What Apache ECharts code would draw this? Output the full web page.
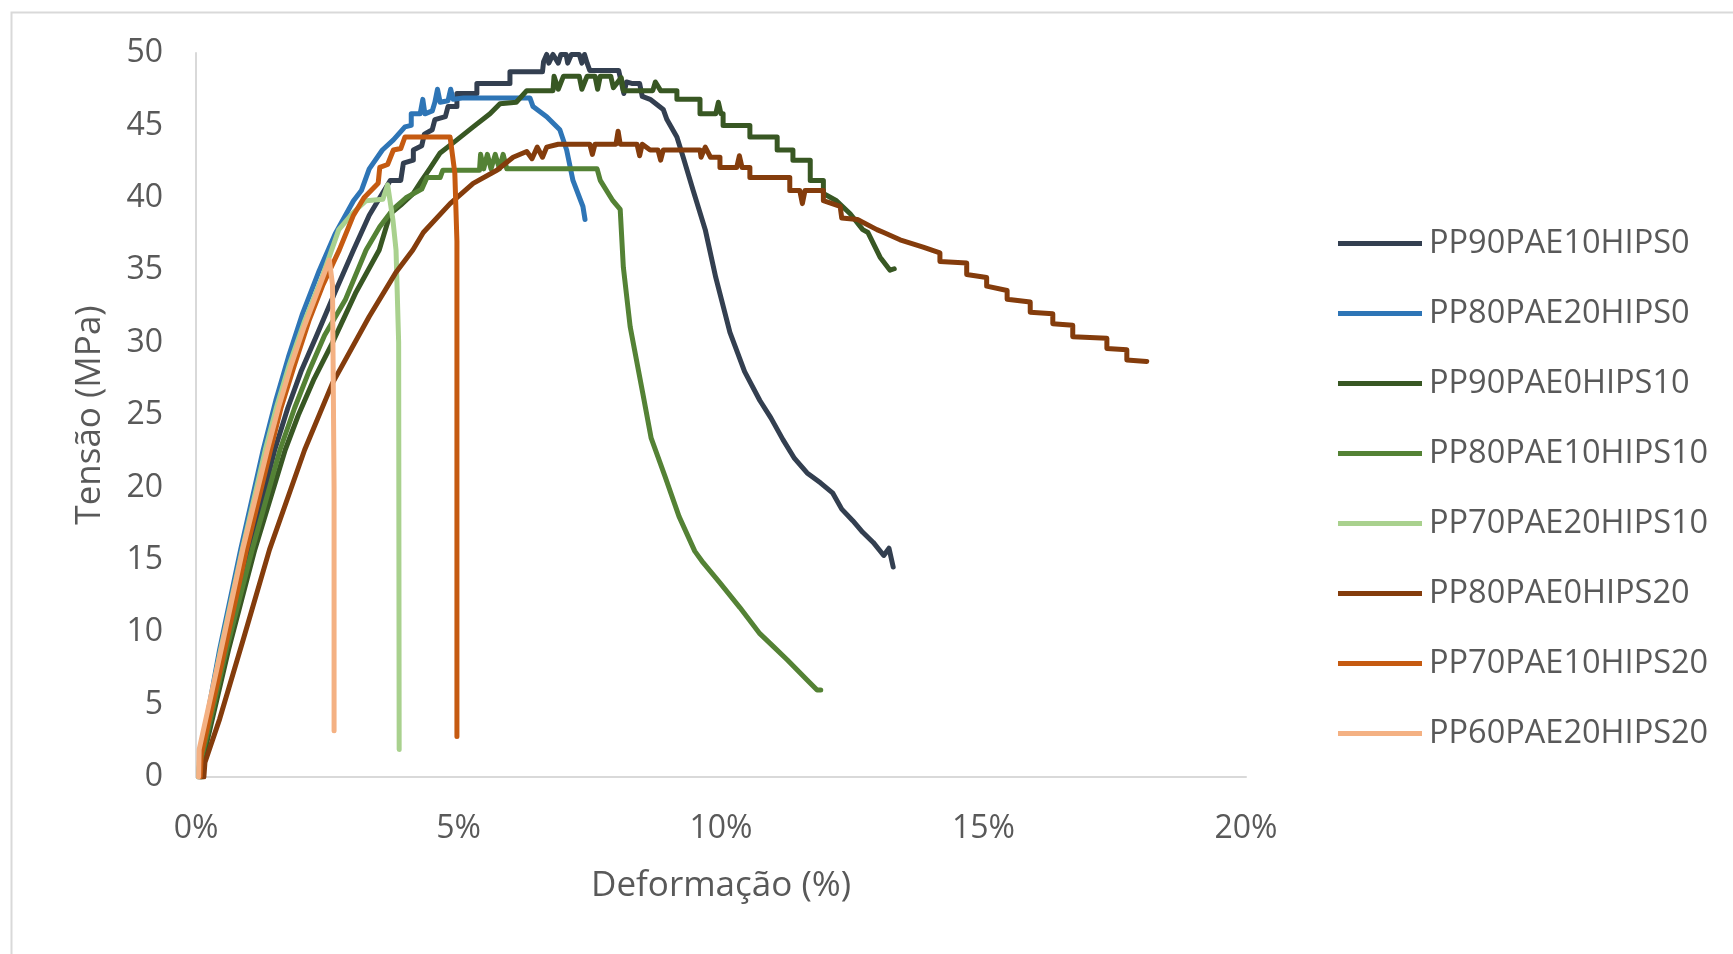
<!DOCTYPE html>
<html>
<head>
<meta charset="utf-8">
<script src="https://cdn.jsdelivr.net/npm/echarts@6/dist/echarts.min.js"></script>
<style>
html,body{margin:0;padding:0;background:#fff;}
#chart{width:1733px;height:954px;}
</style>
</head>
<body>
<div id="chart"></div>
<script>
// ---- Data (x = deformação in %, y = tensão in MPa) ----
const seriesNames = ['PP90PAE10HIPS0','PP80PAE20HIPS0','PP90PAE0HIPS10','PP80PAE10HIPS10','PP70PAE20HIPS10','PP80PAE0HIPS20','PP70PAE10HIPS20','PP60PAE20HIPS20'];
const xTicks = [0, 5, 10, 15, 20];
const yTicks = [0, 5, 10, 15, 20, 25, 30, 35, 40, 45, 50];

const pp90pae10hips0 = [[0.10,0],[0.13,1.5],[0.55,8.8],[1.03,15.7],[1.50,22.6],[1.75,25.5],[2.00,28.0],[2.30,30.5],[2.65,33.5],[3.00,36.4],[3.30,38.8],[3.50,40.0],[3.70,41.2],[3.90,41.2],[3.95,42.4],[4.14,42.6],[4.14,43.3],[4.30,43.6],[4.35,44.4],[4.50,44.7],[4.55,45.4],[4.75,45.6],[4.80,46.3],[4.97,46.3],[4.97,47.2],[5.35,47.2],[5.35,47.9],[5.98,47.9],[5.98,48.7],[6.60,48.7],[6.62,49.4],[6.68,49.9],[6.72,49.3],[6.80,49.9],[6.90,49.3],[6.95,49.9],[7.05,49.9],[7.08,49.3],[7.15,49.9],[7.30,49.9],[7.35,49.3],[7.40,49.9],[7.45,49.3],[7.50,48.8],[8.05,48.8],[8.10,48.0],[8.15,47.2],[8.20,48.0],[8.30,47.9],[8.45,47.9],[8.50,47.0],[8.65,46.8],[8.90,46.1],[8.97,45.4],[9.16,44.2],[9.28,42.8],[9.47,40.5],[9.70,37.8],[9.90,34.5],[10.17,30.7],[10.45,28.0],[10.74,26.0],[10.95,24.8],[11.18,23.3],[11.40,22.0],[11.64,21.0],[11.90,20.3],[12.13,19.6],[12.30,18.5],[12.51,17.7],[12.70,16.9],[12.90,16.2],[13.10,15.3],[13.20,15.8],[13.28,14.5]];

const pp80pae20hips0 = [[0.05,0],[0.08,1.5],[0.45,8.8],[0.85,15.7],[1.28,22.6],[1.52,26.0],[1.76,29.0],[2.03,32.0],[2.35,35.0],[2.65,37.5],[3.00,39.8],[3.15,40.5],[3.30,42.0],[3.55,43.3],[3.76,44.0],[3.98,44.9],[4.10,45.0],[4.10,45.8],[4.27,45.8],[4.32,46.8],[4.36,45.8],[4.50,46.0],[4.55,46.6],[4.60,47.5],[4.65,46.6],[4.80,46.7],[4.85,47.5],[4.90,46.8],[5.10,46.9],[6.36,46.9],[6.42,46.3],[6.68,45.6],[6.93,44.7],[7.06,43.3],[7.18,41.2],[7.37,39.4],[7.41,38.5]];

const pp90pae0hips10 = [[0.12,0],[0.15,1.5],[0.62,8.8],[1.12,15.7],[1.70,22.6],[1.95,25.0],[2.25,27.5],[2.60,30.0],[3.05,33.5],[3.49,36.4],[3.70,38.9],[3.90,39.5],[4.14,40.3],[4.30,41.2],[4.45,42.0],[4.65,43.1],[4.97,44.0],[5.28,44.9],[5.60,45.8],[5.79,46.5],[6.10,46.6],[6.30,47.4],[6.80,47.4],[6.82,48.4],[6.90,47.5],[7.00,48.4],[7.30,48.4],[7.35,47.5],[7.45,48.4],[7.60,48.4],[7.65,47.5],[7.70,48.4],[7.90,48.4],[7.95,47.6],[8.10,48.3],[8.14,47.4],[8.70,47.4],[8.75,48.0],[8.85,47.4],[9.16,47.4],[9.16,46.8],[9.60,46.8],[9.60,45.8],[9.90,45.8],[9.95,46.6],[10.00,45.8],[10.04,45.8],[10.04,45.0],[10.55,45.0],[10.55,44.2],[11.07,44.2],[11.07,43.3],[11.37,43.3],[11.37,42.6],[11.70,42.6],[11.70,41.2],[11.95,41.2],[11.95,40.3],[12.20,39.8],[12.46,38.9],[12.70,37.8],[12.80,37.6],[13.03,35.9],[13.22,35.0],[13.30,35.1]];

const pp80pae10hips10 = [[0.10,0],[0.12,1.5],[0.58,8.8],[1.07,15.7],[1.60,22.6],[1.88,25.5],[2.15,28.0],[2.45,30.5],[2.85,33.0],[3.24,36.4],[3.50,38.0],[3.75,39.2],[4.00,40.0],[4.30,40.6],[4.40,41.4],[4.65,41.4],[4.70,41.9],[5.40,41.9],[5.42,43.0],[5.48,42.0],[5.55,43.0],[5.62,42.0],[5.70,43.0],[5.78,42.0],[5.85,43.0],[5.92,42.0],[7.64,42.0],[7.70,41.2],[7.94,39.8],[8.08,39.2],[8.14,35.2],[8.27,31.1],[8.51,26.5],[8.67,23.4],[8.93,20.8],[9.20,18.0],[9.50,15.6],[9.66,14.8],[9.98,13.4],[10.36,11.7],[10.74,9.9],[11.00,9.0],[11.26,8.1],[11.64,6.7],[11.83,6.0],[11.90,6.0]];

const pp70pae20hips10 = [[0.05,0],[0.07,1.5],[0.47,8.8],[0.88,15.7],[1.32,22.6],[1.53,25.5],[1.78,28.5],[2.07,31.5],[2.40,34.5],[2.72,37.8],[3.00,39.0],[3.24,39.8],[3.56,39.9],[3.65,40.9],[3.75,38.5],[3.81,36.4],[3.86,30.0],[3.87,1.9]];

const pp80pae0hips20 = [[0.15,0],[0.17,1.0],[0.45,4.0],[0.90,9.5],[1.40,15.7],[2.07,22.6],[2.60,27.2],[3.30,31.8],[3.80,34.8],[4.13,36.4],[4.33,37.6],[4.84,39.6],[5.28,41.0],[5.73,41.9],[6.04,42.8],[6.30,43.2],[6.40,42.7],[6.50,43.5],[6.60,42.8],[6.68,43.5],[6.90,43.7],[7.50,43.7],[7.55,43.0],[7.60,43.7],[8.00,43.7],[8.04,44.6],[8.08,43.7],[8.40,43.7],[8.45,42.9],[8.50,43.7],[8.65,43.3],[8.80,43.3],[8.85,42.6],[8.90,43.3],[9.60,43.3],[9.62,42.8],[9.70,43.5],[9.80,42.8],[9.98,42.8],[9.98,42.1],[10.30,42.1],[10.35,42.9],[10.40,42.1],[10.55,42.1],[10.55,41.4],[11.31,41.4],[11.31,40.5],[11.50,40.5],[11.55,39.6],[11.60,40.5],[11.95,40.5],[11.95,39.8],[12.27,39.4],[12.30,38.6],[12.60,38.5],[12.97,37.8],[13.10,37.6],[13.41,37.1],[13.85,36.6],[14.17,36.2],[14.17,35.6],[14.68,35.5],[14.68,34.7],[15.06,34.5],[15.06,33.9],[15.45,33.6],[15.45,33.0],[15.89,32.8],[15.89,32.1],[16.32,32.0],[16.32,31.3],[16.70,31.2],[16.70,30.4],[17.35,30.3],[17.35,29.6],[17.73,29.5],[17.73,28.8],[18.11,28.7]];

const pp70pae10hips20 = [[0.08,0],[0.10,1.5],[0.50,8.0],[0.95,15.5],[1.42,22.6],[1.62,25.5],[1.88,28.5],[2.15,31.5],[2.42,34.0],[2.73,36.4],[3.00,38.8],[3.20,40.0],[3.47,41.0],[3.50,42.1],[3.65,42.3],[3.76,43.3],[3.90,43.4],[3.98,44.2],[4.84,44.2],[4.93,41.7],[4.97,37.0],[4.97,2.8]];

const pp60pae20hips20 = [[0.05,0],[0.06,1.9],[0.48,8.8],[0.89,15.7],[1.36,22.6],[1.57,25.5],[1.80,28.3],[2.05,31.0],[2.30,33.4],[2.54,35.7],[2.60,34.0],[2.63,20.0],[2.63,3.2]];

const seriesData = [pp90pae10hips0, pp80pae20hips0, pp90pae0hips10, pp80pae10hips10, pp70pae20hips10, pp80pae0hips20, pp70pae10hips20, pp60pae20hips20];
const colors = ['#333F50','#2E75B6','#385723','#548235','#A9D18E','#843C0C','#C55A11','#F4B183'];

const FONT = 'Open Sans';
const TXT = '#595959';

const chart = echarts.init(document.getElementById('chart'), null, {renderer:'canvas'});
chart.setOption({
  animation: false,
  backgroundColor: '#ffffff',
  color: colors,
  graphic: [{
    type: 'rect', left: 9, top: 10, shape: {width: 2000, height: 2000},
    style: {fill: 'none', stroke: '#d9d9d9', lineWidth: 2}, z: -1
  }],
  grid: {left: 196, right: 487, top: 53, bottom: 177, containLabel: false},
  legend: {
    orient: 'vertical', left: 1333, top: 222,
    itemWidth: 84, itemHeight: 5, itemGap: 37, icon: 'rect',
    textStyle: {fontFamily: FONT, fontSize: 32.5, color: TXT, lineHeight: 31, padding: [0,0,0,2]},
    data: seriesNames
  },
  xAxis: {
    type: 'value', min: 0, max: 20, interval: 5,
    name: 'Deformação (%)', nameLocation: 'middle', nameGap: 92,
    nameTextStyle: {fontFamily: FONT, fontSize: 35, color: TXT},
    axisLine: {show: true, lineStyle: {color: '#d9d9d9', width: 2}},
    axisTick: {show: false}, splitLine: {show: false},
    axisLabel: {fontFamily: FONT, fontSize: 32, color: TXT, margin: 36,
      formatter: v => (xTicks.indexOf(v) >= 0 ? v + '%' : '')}
  },
  yAxis: {
    type: 'value', min: 0, max: 50, interval: 5,
    name: 'Tensão (MPa)', nameLocation: 'middle', nameGap: 88, nameRotate: 90,
    nameTextStyle: {fontFamily: FONT, fontSize: 35, color: TXT},
    axisLine: {show: true, lineStyle: {color: '#d9d9d9', width: 2}},
    axisTick: {show: false}, splitLine: {show: false},
    axisLabel: {fontFamily: FONT, fontSize: 32, color: TXT, margin: 33,
      formatter: v => (yTicks.indexOf(v) >= 0 ? String(v) : '')}
  },
  series: seriesNames.map((n, i) => ({
    name: n, type: 'line', data: seriesData[i],
    showSymbol: false, symbol: 'none',
    lineStyle: {width: 5, color: colors[i], cap: 'round', join: 'round'},
    itemStyle: {color: colors[i]}
  }))
});
</script>
</body>
</html>
